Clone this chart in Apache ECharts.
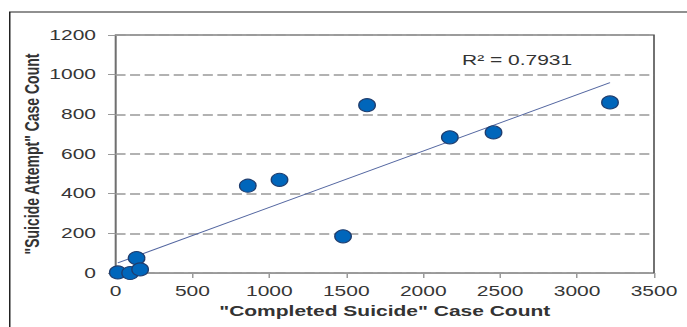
<!DOCTYPE html>
<html>
<head>
<meta charset="utf-8">
<script src="https://cdn.jsdelivr.net/npm/echarts@6/dist/echarts.min.js"></script>
<style>
  html, body { margin: 0; padding: 0; background: #fff; overflow: hidden; }
  /* chart is laid out narrow and widened horizontally to get the wide-glyph look */
  #chart { width: 458px; height: 327px; transform: scaleX(1.5); transform-origin: 0 0; }
</style>
</head>
<body>
<div id="chart"></div>
<script>
// Case counts per region: completed suicides (x) vs suicide attempts (y)
const completedCounts = [15, 95, 137, 160, 860, 1066, 1479, 1635, 2173, 2457, 3214];
const attemptCounts   = [3, 0, 75, 18, 440, 470, 185, 846, 684, 709, 860];

const xTicks = { min: 0, max: 3500, step: 500 };
const yTicks = { min: 0, max: 1200, step: 200 };

const xTitle = '"Completed Suicide" Case Count';
const yTitle = '"Suicide Attempt" Case Count';
const rSquaredText = 'R² = 0.7931';

const FONT = '"Liberation Sans", Arial, sans-serif';

// least-squares linear trend over the points
function linearFit(xs, ys) {
  const n = xs.length;
  const mx = xs.reduce((a, b) => a + b, 0) / n;
  const my = ys.reduce((a, b) => a + b, 0) / n;
  let sxy = 0, sxx = 0;
  for (let i = 0; i < n; i++) {
    sxy += (xs[i] - mx) * (ys[i] - my);
    sxx += (xs[i] - mx) * (xs[i] - mx);
  }
  const slope = sxy / sxx;
  return { slope, intercept: my - slope * mx };
}

const fit = linearFit(completedCounts, attemptCounts);
const xLo = Math.min(...completedCounts);
const xHi = Math.max(...completedCounts);
const trendPoints = [
  [xLo, fit.intercept + fit.slope * xLo],
  [xHi, fit.intercept + fit.slope * xHi]
];
const points = completedCounts.map((x, i) => [x, attemptCounts[i]]);

const plainNumber = (v) => String(v);

const chart = echarts.init(document.getElementById('chart'), null, { renderer: 'svg' });

chart.setOption({
  animation: false,
  backgroundColor: '#ffffff',
  grid: {
    left: 77, top: 35, width: 359, height: 238,
    outerBoundsMode: 'none', containLabel: false,
    show: true, borderColor: '#444', borderWidth: 1, backgroundColor: 'transparent'
  },
  xAxis: {
    type: 'value',
    min: xTicks.min, max: xTicks.max, interval: xTicks.step,
    name: xTitle, nameLocation: 'middle', nameGap: 31, nameMoveOverlap: false,
    nameTextStyle: { fontFamily: FONT, fontSize: 14, fontWeight: 'bold', color: '#333' },
    axisLine: { show: true, lineStyle: { color: '#9a9a9a', width: 1 } },
    axisTick: { show: true, inside: false, length: 5, lineStyle: { color: '#9a9a9a' } },
    axisLabel: { fontFamily: FONT, fontSize: 14, color: '#363636', margin: 11, formatter: plainNumber },
    splitLine: { show: false }
  },
  yAxis: {
    type: 'value',
    min: yTicks.min, max: yTicks.max, interval: yTicks.step,
    name: yTitle, nameLocation: 'middle', nameGap: 49, nameRotate: 90, nameMoveOverlap: false,
    nameTextStyle: { fontFamily: FONT, fontSize: 14, fontWeight: 'bold', color: '#333' },
    axisLine: { show: true, lineStyle: { color: '#9a9a9a', width: 1 } },
    axisTick: { show: true, inside: false, length: 5, lineStyle: { color: '#9a9a9a' } },
    axisLabel: { fontFamily: FONT, fontSize: 14, color: '#363636', margin: 13, formatter: plainNumber },
    splitLine: { show: true, lineStyle: { color: '#999', width: 1.5, type: [6.7, 3] } }
  },
  graphic: [
    {
      type: 'rect', silent: true, z: 100,
      shape: { x: 6.5, y: 12, width: 600, height: 400 },
      style: { fill: 'none', stroke: '#222', lineWidth: 1 }
    },
    {
      type: 'text', silent: true, z: 100,
      left: 308, top: 53,
      style: { text: rSquaredText, font: '14px ' + FONT, fill: '#333' }
    }
  ],
  series: [
    {
      type: 'line',
      data: trendPoints,
      symbol: 'none',
      lineStyle: { color: '#5366a0', width: 1 },
      z: 3
    },
    {
      type: 'scatter',
      data: points,
      symbol: 'circle',
      symbolSize: [11, 13],
      itemStyle: { color: '#0066bb', borderColor: '#1f3d6e', borderWidth: 1, opacity: 1 },
      clip: false,
      z: 4
    }
  ]
});
</script>
</body>
</html>
